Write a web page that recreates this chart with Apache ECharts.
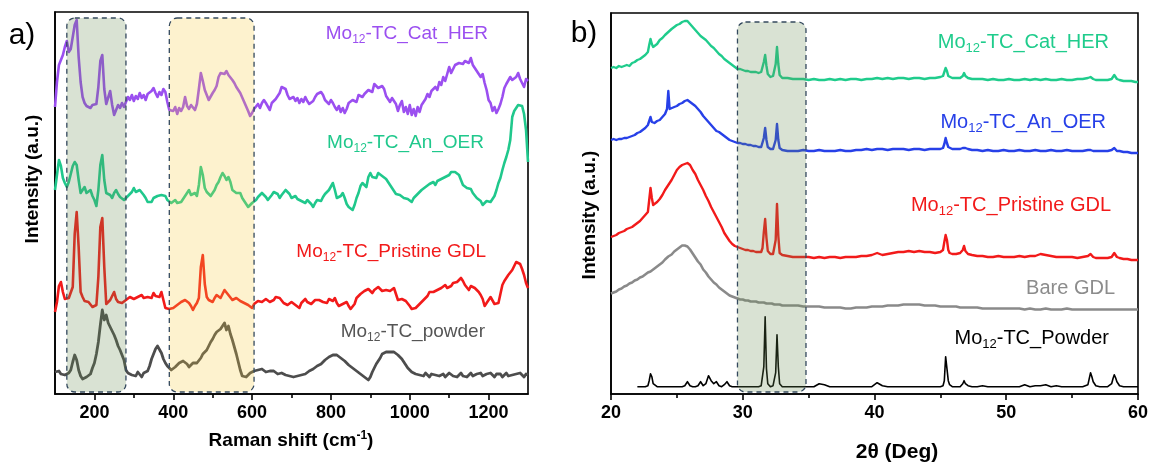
<!DOCTYPE html>
<html>
<head>
<meta charset="utf-8">
<script src="https://cdn.jsdelivr.net/npm/echarts@6/dist/echarts.min.js"></script>
<style>
  html, body { margin: 0; padding: 0; background: #fff; }
  #chart { width: 1151px; height: 467px; }
</style>
</head>
<body>
<div id="chart"></div>
<script>
// ---------- Raman spectra (a) ----------
const ramanTicks = [200, 400, 600, 800, 1000, 1200];
const ramanMinorTicks = [300, 500, 700, 900, 1100];
// sampling grid of the spectra: 100 ... 1300 cm-1, every 5 cm-1
const ramanShift = [];
for (let x = 100; x <= 1300; x += 5) ramanShift.push(x);

const ramanCatHer = [
  10,35,52,57,62,70,76,65,68,80,92,97,60,35,20,14,11,13,9,12,
  10,13,30,56,62,28,13,15,26,12,2,4,12,9,14,10,15,20,17,22,
  16,21,18,24,19,22,17,23,21,26,29,24,20,25,22,28,25,15,7,5,
  6,10,3,9,6,10,20,11,8,12,14,7,13,28,44,36,27,22,17,18,
  24,27,31,40,44,45,43,46,42,40,37,34,30,27,24,22,15,13,6,1,
  4,8,10,13,9,14,17,14,12,7,14,12,18,20,24,30,32,28,22,18,
  17,20,16,19,14,18,15,20,16,13,11,16,20,23,21,25,22,17,19,13,
  17,14,10,7,11,5,9,4,8,14,12,17,19,15,22,24,20,23,21,27,
  28,25,33,34,29,27,31,28,21,18,15,19,17,13,6,12,16,5,10,3,
  12,2,8,1,10,5,12,14,18,23,20,26,24,30,27,35,32,40,36,43,
  50,44,48,52,53,54,55,53,56,58,54,59,52,50,46,48,40,43,34,27,
  17,14,6,10,4,8,13,20,29,33,34,40,37,38,40,44,38,34,30,38,
  36
];
const ramanAnOer = [
  20,35,50,44,32,27,23,28,36,44,48,45,30,17,20,23,17,19,20,14,
  10,4,20,45,55,30,17,18,15,12,17,20,16,13,12,10,10,14,12,18,
  22,18,16,20,19,15,12,8,6,8,12,10,14,13,15,17,14,10,8,7,
  8,10,7,9,8,11,14,17,20,15,13,17,14,25,43,35,22,18,20,14,
  15,20,25,28,33,37,34,30,33,28,20,18,17,15,17,12,10,6,3,5,
  7,9,10,13,12,17,15,13,10,12,15,18,20,16,12,15,17,20,22,16,
  12,10,14,11,13,9,8,7,10,11,6,3,7,10,12,9,13,16,18,20,
  22,27,20,12,10,14,17,12,6,3,2,0,5,12,17,24,27,25,23,33,
  37,33,35,32,37,38,34,36,31,30,25,22,20,16,18,15,16,12,14,11,
  11,8,12,10,16,14,20,18,23,21,26,24,28,25,29,27,31,29,33,32,
  35,38,40,38,37,35,33,25,24,22,20,21,17,16,12,10,9,5,6,9,
  10,8,7,14,20,27,32,40,47,53,60,70,93,99,102,105,107,104,96,80,
  48
];
const ramanPristine = [
  0,10,26,30,20,13,12,14,12,25,78,100,65,20,15,11,9,10,10,5,
  5,7,35,85,94,45,8,10,12,16,20,13,10,9,9,11,12,14,15,14,
  13,11,15,13,17,14,12,15,17,14,19,16,18,15,20,12,4,2,3,3,
  4,6,7,9,10,12,12,10,9,6,2,6,9,14,45,57,28,15,12,11,
  10,14,17,15,14,18,22,24,17,15,12,13,14,12,11,9,9,7,7,5,
  4,8,9,11,12,10,9,13,12,10,9,12,15,13,14,12,9,8,7,9,
  10,12,7,5,4,9,11,13,10,12,8,10,12,14,12,14,10,11,9,13,
  14,11,14,9,6,5,8,6,10,6,3,2,8,14,13,18,19,21,20,23,
  21,19,22,20,25,23,21,19,22,20,21,23,24,18,12,14,13,15,11,9,
  6,3,2,4,5,8,10,12,11,16,20,18,20,18,22,21,24,26,27,24,
  24,26,29,30,30,32,34,31,27,25,22,26,26,24,22,20,17,13,6,9,
  12,15,16,8,6,9,18,27,31,34,37,39,42,46,50,52,48,43,37,29,
  24
];
const ramanPowder = [
  8,7,9,6,8,5,4,7,10,18,25,20,10,4,1,0,3,2,6,12,
  17,26,38,55,70,60,65,57,53,49,45,40,34,30,31,20,10,7,8,5,
  7,4,8,6,3,7,5,9,14,21,26,31,34,32,27,21,17,14,13,10,
  11,13,15,17,18,19,18,16,13,15,17,18,17,19,22,26,28,30,34,38,
  41,45,48,50,51,54,57,50,54,46,40,33,26,18,10,4,2,3,5,7,
  8,9,8,10,9,11,10,8,10,9,7,9,8,6,8,7,7,5,6,4,
  5,3,5,4,6,5,7,6,8,9,10,11,13,14,15,16,18,20,22,23,
  24,25,24,25,23,22,21,19,17,15,14,12,11,9,8,6,4,3,1,0,
  3,8,12,16,17,22,26,27,28,28,28,27,28,27,25,23,21,18,15,12,
  10,8,7,6,7,5,6,4,7,5,3,6,4,5,7,4,5,6,3,5,
  7,5,4,6,3,5,7,4,6,3,5,7,4,2,6,5,7,4,5,6,
  4,7,5,3,6,4,6,3,5,7,4,6,5,3,6,4,7,5,3,6,
  5
];
// vertical stacking of the four spectra (a.u.)
const ramanOffsets = [277, 184, 82, 14];
// highlighted Raman windows (cm-1)
const ramanBands = [[130, 280], [390, 605]];
const ramanBandSpan = [2, 376];

// ---------- XRD patterns (b) ----------
const xrdTicks = [20, 30, 40, 50, 60];
const xrdTwoTheta = [
  20.0,20.2,20.4,20.6,20.8,21.0,21.2,21.4,21.6,21.8,22.0,22.2,22.4,22.6,
  22.8,22.9,23.0,23.1,23.2,23.3,
  23.5,23.7,23.9,24.1,24.25,24.35,24.45,24.6,24.8,
  25.0,25.2,25.4,25.6,25.8,26.0,26.2,26.4,26.6,26.8,27.0,27.2,27.4,27.6,27.8,28.0,
  28.2,28.4,28.6,28.8,29.0,29.2,29.4,29.6,29.8,30.0,30.2,30.4,30.6,30.8,31.0,31.2,
  31.3,31.4,31.5,31.6,31.7,31.8,31.9,32.0,32.1,32.2,32.3,32.4,32.5,32.6,32.7,32.8,32.9,33.0,33.1,
  33.4,33.8,34.2,34.6,35.0,35.4,35.8,36.2,36.6,37.0,37.4,37.8,38.2,38.6,39.0,
  39.4,39.8,40.2,40.6,41.0,41.4,41.8,42.2,42.6,43.0,43.4,43.8,44.2,44.6,45.0,
  45.2,45.3,45.4,45.5,45.6,45.7,45.9,
  46.2,46.5,46.7,46.8,46.9,47.1,47.4,
  47.8,48.2,48.6,49.0,49.4,49.8,50.2,50.6,51.0,51.4,51.8,
  52.2,52.6,53.0,53.4,53.8,54.2,54.6,55.0,55.4,55.8,56.2,
  56.3,56.4,56.5,56.6,56.8,
  57.1,57.4,57.7,58.0,58.1,58.2,58.3,58.4,58.6,
  58.9,59.2,59.5,59.8,60.0
];
const xrdCatHer = [
  14,15,14,16,15,16,17,16,19,20,22,23,25,27,
  30,37,43,38,35,36,
  38,42,44,47,48,50,51,53,55,
  57,58,60,61,61,58,55,52,49,46,44,42,39,36,34,31,28,26,23,21,19,17,15,13,13,12,11,11,10,10,10,9,
  10,10,12,20,27,16,8,6,5,5,6,8,18,35,18,7,5,4,4,
  4,3,3,3,2,3,2,2,3,2,3,2,3,3,2,3,3,4,3,4,3,4,4,3,4,4,3,4,4,5,
  6,10,14,11,6,5,4,
  4,4,6,9,6,4,3,
  3,3,2,3,2,2,3,2,2,3,2,3,2,3,2,2,3,2,2,3,3,4,
  5,5,4,3,2,
  2,2,2,3,5,7,5,3,2,
  1,1,1,0,0
];
const xrdAnOer = [
  13,14,13,14,14,15,15,16,17,18,20,21,23,25,
  28,32,36,31,30,30,
  32,33,36,39,44,62,44,45,46,
  47,49,50,52,53,51,49,47,44,41,37,34,31,28,25,22,21,19,17,15,13,12,11,10,10,9,9,8,8,7,7,6,
  6,6,8,15,25,13,6,5,4,4,4,6,13,29,13,5,3,3,2,
  2,2,2,3,2,2,3,2,2,2,3,2,2,3,3,4,3,4,4,3,4,4,4,3,4,4,3,4,4,4,
  5,9,15,10,6,5,4,
  4,4,5,7,5,4,3,
  3,2,3,2,2,3,2,2,3,2,2,3,2,2,3,2,2,3,2,2,2,3,
  3,3,3,2,2,
  2,2,2,3,4,5,4,2,2,
  1,1,0,0,0
];
const xrdPristine = [
  23,24,25,27,28,29,31,32,33,35,37,39,42,45,
  48,60,72,62,55,56,
  58,61,65,70,73,75,77,80,85,
  90,93,95,96,97,95,90,86,80,75,70,64,59,53,48,43,38,33,27,23,19,16,14,13,12,11,10,10,9,9,8,8,
  8,8,12,28,41,22,9,7,6,6,6,8,20,56,24,7,5,5,4,
  4,3,3,3,3,2,3,2,3,3,2,3,3,3,4,4,5,7,5,6,7,8,8,9,8,9,8,8,7,8,
  10,18,25,20,10,7,6,
  6,7,10,14,9,6,5,
  4,4,3,3,4,3,3,3,4,3,4,4,6,5,4,3,3,3,3,2,3,4,
  5,6,5,3,2,
  2,2,2,3,5,7,5,3,2,
  1,1,0,0,0
];
const xrdBareGdl = [
  16,17,18,20,21,23,24,26,27,29,30,32,33,35,
  37,37,38,39,40,41,
  43,45,47,50,52,53,54,55,58,
  60,62,64,64,63,60,56,52,48,45,40,37,33,30,27,25,22,20,18,16,14,13,12,11,10,10,9,9,8,8,8,7,
  7,7,7,7,6,6,6,6,6,6,5,5,5,5,5,5,5,4,4,
  4,4,4,3,3,3,3,2,2,2,2,1,1,2,2,2,3,3,3,4,4,4,5,5,5,5,4,4,4,3,
  3,3,3,3,3,3,3,
  3,2,2,2,2,2,2,
  2,1,1,1,1,1,1,1,1,0,1,0,0,1,0,0,0,1,0,0,0,0,
  0,0,0,0,0,
  0,0,0,0,0,0,0,0,0,
  0,0,0,0,0
];
const xrdPowder = [
  null,null,null,null,null,null,null,null,null,null,0,0,0,0,
  1,6,13,10,3,1,
  0,0,0,0,0,0,0,0,0,
  0,0,0,1,5,1,0,0,1,5,1,3,11,6,3,5,1,0,2,5,1,0,0,0,0,0,0,0,0,0,0,0,
  0,1,3,20,70,18,3,1,0,0,1,2,14,52,20,3,1,0,0,
  0,0,0,0,0,0,3,2,0,0,0,0,0,0,0,0,0,4,1,0,0,0,0,0,0,0,0,0,0,0,
  1,6,30,18,6,2,0,
  0,0,3,6,3,1,0,
  0,1,0,0,0,0,0,0,0,2,0,1,1,2,0,1,0,0,0,0,0,2,
  8,14,10,5,1,
  0,0,0,3,8,12,9,5,1,
  0,0,0,0,0
];
const xrdOffsets = [312, 241, 134, 84.5, 7.3];
const xrdBand = [29.6, 34.8];
const xrdBandSpan = [2, 372];

// ---------- drawing ----------
const FONT = "'Liberation Sans', Arial, Helvetica, sans-serif";
const chart = echarts.init(document.getElementById('chart'), null, { renderer: 'canvas' });

function toPoints(xs, ys, offset) {
  const pts = [];
  xs.forEach((x, i) => { if (ys[i] != null) pts.push([x, ys[i] + offset]); });
  return pts;
}
function spectrum(name, xs, ys, offset, color, width, xi, yi) {
  return {
    name, type: 'line', xAxisIndex: xi, yAxisIndex: yi,
    data: toPoints(xs, ys, offset),
    showSymbol: false, symbol: 'none', smooth: false,
    lineStyle: { color, width, join: 'round' }, itemStyle: { color },
    emphasis: { disabled: true }, z: 3
  };
}

const axisLineStyle = { color: '#000', width: 1.6 };
const tickLabel = {
  color: '#000', fontWeight: 'bold', fontSize: 18, fontFamily: FONT, margin: 10,
  formatter: v => String(v)
};

const option = {
  animation: false,
  backgroundColor: '#fff',
  grid: [
    { left: 55, top: 12, width: 473, height: 382, show: true, borderColor: '#000', borderWidth: 1.6, backgroundColor: 'transparent' },
    { left: 611, top: 13, width: 528, height: 381, show: true, borderColor: '#000', borderWidth: 1.6, backgroundColor: 'transparent' }
  ],
  xAxis: [
    {
      gridIndex: 0, type: 'value', min: 100, max: 1300, position: 'bottom',
      axisLine: { show: true, lineStyle: axisLineStyle },
      axisTick: { show: true, inside: false, length: 6, customValues: ramanTicks, lineStyle: axisLineStyle },
      axisLabel: Object.assign({ customValues: ramanTicks }, tickLabel),
      splitLine: { show: false }
    },
    {
      gridIndex: 0, type: 'value', min: 100, max: 1300, position: 'bottom',
      axisLine: { show: false },
      axisTick: { show: true, inside: false, length: 4, customValues: ramanMinorTicks, lineStyle: axisLineStyle },
      axisLabel: { show: false },
      splitLine: { show: false }
    },
    {
      gridIndex: 1, type: 'value', min: 20, max: 60, interval: 10, position: 'bottom',
      axisLine: { show: true, lineStyle: axisLineStyle },
      axisTick: { show: true, inside: false, length: 6, lineStyle: axisLineStyle },
      minorTick: { show: true, splitNumber: 2, length: 4, lineStyle: axisLineStyle },
      axisLabel: Object.assign({ showMinLabel: true, showMaxLabel: true }, tickLabel),
      splitLine: { show: false }
    }
  ],
  yAxis: [
    {
      gridIndex: 0, type: 'value', min: 0, max: 382,
      axisLine: { show: true, lineStyle: axisLineStyle },
      axisTick: { show: false }, axisLabel: { show: false }, splitLine: { show: false }
    },
    {
      gridIndex: 1, type: 'value', min: 0, max: 381,
      axisLine: { show: true, lineStyle: axisLineStyle },
      axisTick: { show: false }, axisLabel: { show: false }, splitLine: { show: false }
    }
  ],
  series: [
    spectrum('Mo12-TC_Cat_HER', ramanShift, ramanCatHer, ramanOffsets[0], '#9b4ff0', 2.6, 0, 0),
    spectrum('Mo12-TC_An_OER', ramanShift, ramanAnOer, ramanOffsets[1], '#20c88c', 2.6, 0, 0),
    spectrum('Mo12-TC_Pristine GDL', ramanShift, ramanPristine, ramanOffsets[2], '#f21a1a', 2.6, 0, 0),
    spectrum('Mo12-TC_powder', ramanShift, ramanPowder, ramanOffsets[3], '#4d4d4d', 2.8, 0, 0),
    spectrum('Mo12-TC_Cat_HER', xrdTwoTheta, xrdCatHer, xrdOffsets[0], '#1fcc8c', 2.4, 2, 1),
    spectrum('Mo12-TC_An_OER', xrdTwoTheta, xrdAnOer, xrdOffsets[1], '#2740e8', 2.4, 2, 1),
    spectrum('Mo12-TC_Pristine GDL', xrdTwoTheta, xrdPristine, xrdOffsets[2], '#f21a1a', 2.4, 2, 1),
    spectrum('Bare GDL', xrdTwoTheta, xrdBareGdl, xrdOffsets[3], '#8a8a8a', 2.6, 2, 1),
    spectrum('Mo12-TC_Powder', xrdTwoTheta, xrdPowder, xrdOffsets[4], '#000000', 1.6, 2, 1)
  ]
};
chart.setOption(option);

// translucent dashed windows laid over the traces
function band(seriesIndex, x0, x1, span, fill) {
  const a = chart.convertToPixel({ seriesIndex }, [x0, span[1]]);
  const b = chart.convertToPixel({ seriesIndex }, [x1, span[0]]);
  return {
    type: 'rect', z: 50,
    shape: { x: a[0], y: a[1], width: b[0] - a[0], height: b[1] - a[1], r: 8 },
    style: { fill, stroke: '#34495e', lineWidth: 1.3, lineDash: [5, 4] }
  };
}
const greenFill = 'rgba(103,139,79,0.25)';
const yellowFill = 'rgba(247,203,59,0.25)';

function moLabel(x, y, suffix, color, size) {
  return {
    type: 'text', x, y, z: 60,
    style: {
      text: '{m|Mo}{s|12}{m|' + suffix + '}',
      align: 'right', verticalAlign: 'middle',
      rich: {
        m: { fontSize: size, fill: color, fontFamily: FONT },
        s: { fontSize: Math.round(size * 0.63), fill: color, fontFamily: FONT, padding: [size * 0.6, 0, 0, 0] }
      }
    }
  };
}
function plain(x, y, text, size, opts) {
  return {
    type: 'text', x, y, z: 60, rotation: (opts && opts.rotation) || 0,
    style: Object.assign({
      text, fontSize: size, fontFamily: FONT, fill: '#000',
      align: 'center', verticalAlign: 'middle'
    }, (opts && opts.style) || {})
  };
}

chart.setOption({
  graphic: [
    band(0, ramanBands[0][0], ramanBands[0][1], ramanBandSpan, greenFill),
    band(0, ramanBands[1][0], ramanBands[1][1], ramanBandSpan, yellowFill),
    band(4, xrdBand[0], xrdBand[1], xrdBandSpan, greenFill),

    moLabel(488, 34, '-TC_Cat_HER', '#9b4ff0', 19),
    moLabel(484, 143, '-TC_An_OER', '#20c88c', 19),
    moLabel(486, 252, '-TC_Pristine GDL', '#f21a1a', 19),
    moLabel(485, 332, '-TC_powder', '#555555', 19),

    moLabel(1109, 42, '-TC_Cat_HER', '#1fcc8c', 20),
    moLabel(1106, 122, '-TC_An_OER', '#2740e8', 20),
    moLabel(1111, 205, '-TC_Pristine GDL', '#f21a1a', 20),
    plain(1115, 288, 'Bare GDL', 20, { style: { align: 'right', fill: '#8c8c8c' } }),
    moLabel(1109, 338, '-TC_Powder', '#000000', 20),

    plain(22, 36, 'a)', 30),
    plain(584, 34, 'b)', 30),

    plain(33, 179, 'Intensity (a.u.)', 19, { rotation: Math.PI / 2, style: { fontWeight: 'bold' } }),
    plain(590, 215, 'Intensity (a.u.)', 19, { rotation: Math.PI / 2, style: { fontWeight: 'bold' } }),
    {
      type: 'text', x: 291, y: 441, z: 60,
      style: {
        text: '{b|Raman shift (cm}{p|-1}{b|)}',
        align: 'center', verticalAlign: 'middle',
        rich: {
          b: { fontSize: 19, fontWeight: 'bold', fill: '#000', fontFamily: FONT },
          p: { fontSize: 12, fontWeight: 'bold', fill: '#000', fontFamily: FONT, padding: [0, 0, 10, 0] }
        }
      }
    },
    plain(897, 452, '2\u03b8 (Deg)', 21, { style: { fontWeight: 'bold' } })
  ]
});
</script>
</body>
</html>
